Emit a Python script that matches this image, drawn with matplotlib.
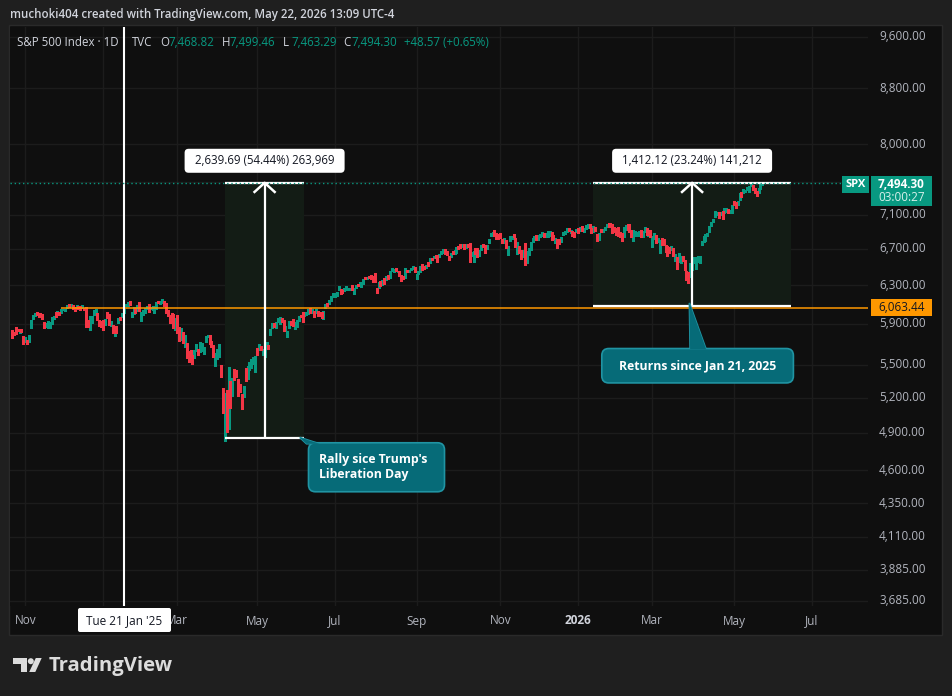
import matplotlib
matplotlib.use("Agg")
import matplotlib.pyplot as plt
from matplotlib.patches import Rectangle, FancyBboxPatch, Polygon, Circle
from matplotlib.lines import Line2D
from matplotlib.transforms import IdentityTransform
from matplotlib.ticker import FixedLocator, NullLocator, NullFormatter
import numpy as np
import pandas as pd

plt.rcParams["font.family"] = ["Open Sans", "DejaVu Sans"]

# ---------------- data ----------------
# exchange holidays (for the bar calendar)
holidays = ["2024-11-28", "2024-12-25", "2025-01-01", "2025-01-09", "2025-01-20",
            "2025-02-17", "2025-04-18", "2025-05-26", "2025-06-19", "2025-07-04",
            "2025-09-01", "2025-11-27", "2025-12-25", "2026-01-01", "2026-01-19",
            "2026-02-16", "2026-04-03", "2026-05-25", "2026-06-19", "2026-07-03"]
first_day = "2024-10-23"

# daily S&P 500 bars, Oct 23 2024 .. May 22 2026
opens = [
    5834, 5817, 5826, 5833, 5819, 5833, 5775,
    5723, 5725, 5722, 5855, 5947, 5977, 6009, 6003, 5986, 5989, 5912, 5869, 5859, 5917, 5934, 5944, 5992, 5992, 6015, 6004,
    6040, 6042, 6069, 6089, 6081, 6083, 6058, 6060, 6075, 6068, 6063, 6052, 6048, 5913, 5842, 5940, 5985, 6024, 6006, 5920, 5920,
    5903, 5892, 5983, 5994, 5911, 5890, 5782, 5862, 5905, 5960, 5969, 6015, 6081, 6077, 6121, 5969, 6026, 6058, 6050, 6096,
    5969, 5998, 6021, 6073, 6083, 6058, 6049, 6025, 6060, 6116, 6121, 6118, 6134, 6115, 6027, 5982, 5970, 5981, 5857,
    5969, 5812, 5781, 5786, 5726, 5706, 5604, 5624, 5594, 5563, 5635, 5654, 5633, 5646, 5630, 5718, 5775, 5772, 5701, 5679, 5528,
    5597, 5581, 5492, 5293, 4953, 5193, 4965, 5353, 5255, 5441, 5411, 5335, 5305, 5233, 5207, 5395, 5381, 5489, 5529, 5509, 5499,
    5626, 5645, 5655, 5605, 5614, 5650, 5679, 5807, 5854, 5896, 5870, 5930, 5902, 5945, 5910, 5841, 5781, 5854, 5920, 5939, 5903,
    5897, 5938, 5978, 5985, 5988, 6005, 6009, 6049, 6010, 5997, 6004, 6013, 5987, 6005, 5970, 6062, 6104, 6112, 6150, 6193,
    6187, 6194, 6248, 6259, 6239, 6240, 6271, 6255, 6251, 6296, 6249, 6264, 6305, 6304, 6306, 6326, 6369, 6371, 6398, 6410, 6377, 6427,
    6270, 6272, 6336, 6309, 6374, 6355, 6389, 6397, 6462, 6454, 6478, 6446, 6447, 6406, 6386, 6375, 6458, 6440, 6459, 6485, 6493,
    6401, 6444, 6456, 6529, 6498, 6500, 6556, 6546, 6591, 6600, 6624, 6611, 6627, 6652, 6658, 6693, 6669, 6608, 6619, 6662, 6657,
    6664, 6731, 6722, 6733, 6746, 6722, 6752, 6740, 6627, 6576, 6687, 6687, 6619, 6690, 6737, 6743, 6704, 6781, 6841, 6884, 6904, 6861, 6866,
    6873, 6785, 6765, 6799, 6711, 6785, 6822, 6864, 6827, 6668, 6722, 6655, 6623, 6716, 6565, 6631, 6709, 6778, 6823,
    6840, 6820, 6835, 6852, 6878, 6845, 6848, 6860, 6890, 6855, 6770, 6805, 6800, 6785, 6858, 6880, 6900, 6938, 6890, 6905, 6870, 6895,
    6920, 6905, 6955, 6910, 6935, 6960, 6985, 6935, 6900, 6950, 6865, 6805, 6925, 6900, 6918, 6955, 6996, 6990, 6984, 6955,
    6930, 6945, 6890, 6870, 6845, 6930, 6980, 6975, 6910, 6840, 6850, 6855, 6860, 6910, 6845, 6905, 6935, 6850, 6910,
    6735, 6820, 6855, 6780, 6670, 6815, 6810, 6735, 6725, 6720, 6690, 6705, 6575, 6605, 6560, 6550, 6620, 6570, 6450, 6440, 6395, 6470,
    6550, 6490, 6560, 6545, 6750, 6785, 6800, 6845, 6900, 6968, 7018, 7080, 7100, 7132, 7100, 7140, 7120, 7135, 7160, 7120, 7125,
    7262, 7250, 7222, 7285, 7375, 7362, 7382, 7405, 7385, 7455, 7465, 7420, 7390, 7370, 7420, 7468.82,
]
highs = [
    5834, 5817, 5862, 5842, 5848, 5851, 5775,
    5772, 5742, 5784, 5933, 5983, 6012, 6018, 6012, 6008, 5996, 5915, 5910, 5925, 5920, 5964, 5973, 6020, 6025, 6020, 6045,
    6053, 6052, 6089, 6099, 6099, 6088, 6066, 6092, 6080, 6079, 6085, 6057, 6071, 5935, 5982, 5978, 6040, 6049, 6006, 5941, 5929,
    5935, 5949, 6022, 6001, 5928, 5890, 5837, 5873, 5961, 5964, 6011, 6052, 6100, 6119, 6128, 6017, 6069, 6063, 6086, 6120,
    6022, 6042, 6062, 6084, 6101, 6074, 6076, 6064, 6116, 6127, 6129, 6147, 6134, 6115, 6043, 5992, 6009, 5994, 5959,
    5987, 5866, 5861, 5812, 5783, 5706, 5636, 5642, 5598, 5645, 5703, 5654, 5716, 5712, 5670, 5775, 5786, 5783, 5732, 5685, 5613,
    5650, 5695, 5501, 5293, 5247, 5267, 5481, 5353, 5381, 5460, 5450, 5367, 5328, 5233, 5309, 5469, 5489, 5528, 5553, 5571, 5581,
    5659, 5700, 5683, 5649, 5655, 5721, 5692, 5845, 5906, 5905, 5917, 5958, 5968, 5954, 5938, 5879, 5829, 5922, 5930, 5944, 5919,
    5938, 5979, 5990, 6017, 6017, 6022, 6044, 6060, 6046, 6026, 6051, 6024, 6019, 6018, 6028, 6101, 6109, 6146, 6187, 6215,
    6211, 6227, 6284, 6262, 6242, 6266, 6290, 6270, 6272, 6302, 6268, 6301, 6315, 6336, 6316, 6360, 6381, 6390, 6401, 6410, 6392, 6428,
    6271, 6330, 6344, 6350, 6379, 6396, 6410, 6447, 6481, 6474, 6481, 6455, 6456, 6408, 6394, 6481, 6467, 6466, 6483, 6508, 6494,
    6416, 6453, 6503, 6532, 6502, 6513, 6556, 6592, 6600, 6619, 6627, 6624, 6640, 6672, 6694, 6696, 6673, 6619, 6649, 6673, 6689,
    6718, 6731, 6751, 6749, 6749, 6754, 6755, 6764, 6664, 6670, 6714, 6706, 6682, 6744, 6752, 6743, 6747, 6808, 6877, 6899, 6920, 6880, 6869,
    6880, 6810, 6825, 6799, 6730, 6842, 6850, 6870, 6827, 6775, 6732, 6683, 6682, 6770, 6670, 6714, 6777, 6826, 6849,
    6860, 6858, 6870, 6894, 6885, 6878, 6905, 6906, 6895, 6860, 6823, 6815, 6810, 6838, 6894, 6908, 6946, 6940, 6920, 6910, 6898, 6926,
    6945, 6950, 6965, 6945, 6977, 6990, 6990, 6940, 6965, 6958, 6870, 6883, 6926, 6930, 6950, 6990, 6998, 6996, 6985, 6958,
    6940, 6950, 6895, 6883, 6955, 6977, 6988, 6988, 6918, 6918, 6910, 6898, 6905, 6918, 6910, 6953, 6940, 6898, 6918,
    6841, 6883, 6860, 6823, 6801, 6823, 6815, 6740, 6733, 6725, 6733, 6710, 6641, 6612, 6650, 6620, 6623, 6574, 6453, 6446, 6537, 6544,
    6612, 6605, 6620, 6620, 6793, 6841, 6870, 6887, 6965, 7016, 7048, 7149, 7137, 7137, 7137, 7149, 7178, 7178, 7165, 7150, 7218,
    7266, 7258, 7266, 7367, 7380, 7410, 7405, 7443, 7452, 7510, 7467, 7425, 7395, 7425, 7480, 7499.46,
]
lows = [
    5762, 5784, 5800, 5823, 5811, 5813, 5703,
    5723, 5696, 5722, 5855, 5947, 5977, 5985, 5969, 5965, 5946, 5854, 5866, 5854, 5861, 5892, 5942, 5964, 5986, 5984, 6004,
    6034, 6033, 6061, 6073, 6077, 6048, 6029, 6060, 6051, 6034, 6059, 6036, 5867, 5867, 5833, 5903, 5983, 6007, 5932, 5879, 5868,
    5834, 5889, 5960, 5891, 5874, 5809, 5774, 5803, 5905, 5937, 5969, 6007, 6076, 6075, 6088, 5962, 6001, 6012, 6028, 6031,
    5923, 5990, 6007, 6047, 6020, 6052, 6042, 6003, 6051, 6107, 6099, 6111, 6084, 6008, 5977, 5909, 5932, 5858, 5837,
    5810, 5732, 5742, 5711, 5667, 5566, 5529, 5547, 5505, 5563, 5629, 5597, 5622, 5633, 5603, 5718, 5764, 5695, 5671, 5572, 5489,
    5558, 5571, 5390, 5069, 4835, 4910, 4937, 5115, 5220, 5359, 5387, 5220, 5255, 5101, 5207, 5356, 5372, 5455, 5468, 5506, 5434,
    5597, 5645, 5637, 5594, 5578, 5650, 5651, 5786, 5854, 5868, 5856, 5917, 5896, 5920, 5830, 5826, 5767, 5854, 5886, 5875, 5848,
    5862, 5922, 5966, 5921, 5978, 5992, 6001, 6003, 6006, 5964, 6004, 5977, 5972, 5953, 5943, 6058, 6081, 6105, 6132, 6178,
    6173, 6187, 6247, 6201, 6211, 6236, 6251, 6251, 6242, 6242, 6201, 6264, 6286, 6303, 6282, 6316, 6361, 6362, 6378, 6362, 6331, 6330,
    6212, 6272, 6288, 6304, 6307, 6355, 6364, 6372, 6452, 6441, 6448, 6437, 6392, 6343, 6360, 6375, 6438, 6438, 6459, 6469, 6446,
    6361, 6416, 6446, 6460, 6474, 6487, 6508, 6538, 6578, 6594, 6600, 6551, 6611, 6635, 6657, 6642, 6627, 6569, 6611, 6640, 6640,
    6656, 6693, 6707, 6720, 6700, 6712, 6716, 6550, 6613, 6552, 6637, 6602, 6614, 6690, 6717, 6655, 6700, 6771, 6841, 6876, 6852, 6816, 6817,
    6823, 6766, 6763, 6710, 6631, 6785, 6812, 6830, 6721, 6646, 6648, 6580, 6604, 6521, 6538, 6627, 6685, 6778, 6823,
    6801, 6805, 6832, 6850, 6835, 6840, 6840, 6842, 6805, 6810, 6763, 6713, 6752, 6782, 6855, 6870, 6895, 6910, 6887, 6841, 6830, 6892,
    6880, 6900, 6900, 6895, 6930, 6945, 6945, 6883, 6895, 6910, 6793, 6800, 6895, 6898, 6915, 6955, 6957, 6950, 6880, 6898,
    6860, 6850, 6830, 6790, 6838, 6918, 6918, 6890, 6830, 6790, 6841, 6841, 6850, 6830, 6835, 6895, 6860, 6841, 6830,
    6720, 6812, 6766, 6772, 6650, 6744, 6744, 6668, 6620, 6650, 6687, 6620, 6566, 6475, 6555, 6544, 6566, 6464, 6355, 6320, 6390, 6464,
    6544, 6475, 6552, 6537, 6744, 6782, 6793, 6841, 6898, 6965, 7016, 7076, 7096, 7060, 7096, 7048, 7117, 7130, 7117, 7117, 7117,
    7218, 7178, 7218, 7279, 7318, 7360, 7378, 7404, 7380, 7452, 7404, 7360, 7330, 7367, 7412, 7463.29,
]
closes = [
    5797, 5809, 5808, 5823, 5832, 5813, 5705,
    5729, 5712, 5783, 5929, 5973, 5996, 6001, 5984, 5985, 5949, 5871, 5894, 5917, 5917, 5949, 5970, 5987, 6021, 5999, 6032,
    6047, 6050, 6087, 6075, 6090, 6053, 6034, 6085, 6051, 6051, 6074, 6050, 5872, 5867, 5931, 5974, 6040, 6037, 5971, 5907, 5882,
    5869, 5942, 5975, 5909, 5918, 5827, 5836, 5843, 5950, 5937, 5997, 6049, 6086, 6119, 6101, 6012, 6068, 6039, 6071, 6041,
    5994, 6038, 6061, 6084, 6026, 6066, 6068, 6052, 6115, 6115, 6129, 6144, 6117, 6013, 5983, 5955, 5956, 5861, 5955,
    5850, 5778, 5843, 5739, 5770, 5615, 5572, 5599, 5522, 5639, 5675, 5615, 5676, 5663, 5668, 5768, 5777, 5712, 5693, 5581, 5612,
    5633, 5671, 5397, 5074, 5062, 4982, 5457, 5268, 5363, 5406, 5397, 5276, 5283, 5158, 5288, 5376, 5485, 5525, 5529, 5561, 5569,
    5604, 5687, 5650, 5607, 5631, 5664, 5660, 5844, 5886, 5892, 5917, 5958, 5964, 5940, 5845, 5842, 5803, 5922, 5889, 5912, 5912,
    5936, 5970, 5971, 5939, 6000, 6006, 6038, 6022, 6045, 5977, 6033, 5983, 5981, 5967, 6025, 6092, 6092, 6141, 6173, 6205,
    6198, 6227, 6279, 6230, 6226, 6263, 6280, 6259, 6268, 6244, 6264, 6297, 6297, 6306, 6309, 6359, 6363, 6389, 6390, 6371, 6362, 6339,
    6238, 6330, 6299, 6345, 6340, 6389, 6374, 6446, 6466, 6469, 6450, 6449, 6412, 6396, 6370, 6467, 6439, 6466, 6481, 6502, 6460,
    6416, 6448, 6502, 6482, 6495, 6512, 6532, 6588, 6584, 6615, 6607, 6600, 6631, 6664, 6693, 6656, 6638, 6605, 6644, 6661, 6688,
    6711, 6715, 6716, 6740, 6714, 6753, 6735, 6553, 6654, 6644, 6671, 6630, 6664, 6736, 6735, 6699, 6738, 6792, 6875, 6891, 6890, 6822, 6840,
    6852, 6771, 6796, 6720, 6728, 6832, 6846, 6850, 6737, 6734, 6672, 6617, 6642, 6538, 6603, 6705, 6766, 6813, 6849,
    6812, 6829, 6849, 6880, 6850, 6866, 6890, 6895, 6820, 6815, 6810, 6730, 6760, 6830, 6885, 6900, 6935, 6918, 6912, 6850, 6840, 6920,
    6900, 6940, 6915, 6935, 6965, 6980, 6955, 6890, 6955, 6920, 6800, 6870, 6900, 6925, 6945, 6985, 6965, 6955, 6900, 6910,
    6875, 6860, 6840, 6800, 6945, 6965, 6930, 6905, 6840, 6895, 6895, 6885, 6895, 6845, 6900, 6945, 6870, 6890, 6840,
    6830, 6870, 6780, 6815, 6790, 6755, 6750, 6675, 6630, 6660, 6725, 6630, 6630, 6490, 6640, 6610, 6575, 6475, 6365, 6330, 6520, 6535,
    6600, 6590, 6610, 6615, 6785, 6835, 6860, 6880, 6958, 7010, 7042, 7140, 7130, 7070, 7128, 7060, 7170, 7165, 7125, 7145, 7210,
    7225, 7190, 7258, 7360, 7325, 7405, 7400, 7438, 7445, 7500, 7410, 7368, 7338, 7418, 7445.73, 7494.30,
]

# price grid levels; the 7,500 label sits under the live price tag
price_ticks = [3685, 3885, 4110, 4350, 4600, 4900, 5200, 5500, 5900,
               6300, 6700, 7100, 7500, 8000, 8800, 9600]
hidden_price_labels = [7500]
month_starts = ["2024-11", "2025-01", "2025-03", "2025-05", "2025-07", "2025-09",
                "2025-11", "2026-01", "2026-03", "2026-05", "2026-07"]
# the Jan 2025 label is covered by the crosshair date tag
month_labels = ["Nov", "", "Mar", "May", "Jul", "Sep", "Nov", "2026", "Mar", "May", "Jul"]

legend_ohlc = [("O", "7,468.82"), ("H", "7,499.46"), ("L", "7,463.29"), ("C", "7,494.30")]
legend_change = "+48.57 (+0.65%)"
last_price = 7494.30

level_price = 6063.44
level_start = "2024-11-29"
marker_date = "2025-01-21"

# price-range measurements: start, end, bottom, top, label
rally = ("2025-04-07", "2025-06-06", 4854.61, 7494.30, "2,639.69 (54.44%) 263,969")
since = ("2026-01-14", "2026-06-15", 6082.18, 7494.30, "1,412.12 (23.24%) 141,212")

# ---------------- style ----------------
W, H = 952, 696
UP, DOWN = "#089981", "#f23645"
BG, PANE, GRID = "#1f1f1f", "#0f0f0f", "#1c1c1c"
AXTXT, LIGHT = "#b2b5be", "#d1d4dc"
CALLOUT, CALLOUT_EDGE = "#066b78", "#2094a3"

cal = pd.bdate_range(first_day, "2026-08-31", freq="C", holidays=holidays)


def bar(d):
    return int(cal.searchsorted(pd.Timestamp(d)))


n = min(len(opens), len(highs), len(lows), len(closes))
o = np.array(opens[:n], float)
h = np.array(highs[:n], float)
l = np.array(lows[:n], float)
c = np.array(closes[:n], float)
xs = np.arange(n)

fig = plt.figure(figsize=(W / 100, H / 100), dpi=100, facecolor=BG)
ID = IdentityTransform()


def P(x, y):
    # top-left pixel -> display
    return x, H - y


fig.add_artist(Rectangle(P(9, 635), 933, 610, transform=ID, fc=PANE, ec="#2a2a2a", lw=1, zorder=-1))

ax = fig.add_axes([10 / W, (H - 606) / H, 858 / W, 579 / H])
ax.set_facecolor(PANE)
for s in ax.spines.values():
    s.set_visible(False)
ax.set_yscale("log")
i_mark = bar(marker_date)
ax.set_xlim(i_mark - 114 / 1.9, i_mark + 744 / 1.9)
ax.set_ylim(3652.5, 9764)

ax.yaxis.set_major_locator(FixedLocator(price_ticks))
ax.yaxis.set_minor_locator(NullLocator())
ax.yaxis.set_major_formatter(NullFormatter())
ax.yaxis.set_minor_formatter(NullFormatter())
tick_bars = [bar(m + "-01") for m in month_starts]
ax.xaxis.set_major_locator(FixedLocator(tick_bars))
ax.xaxis.set_major_formatter(NullFormatter())
ax.tick_params(length=0)
ax.grid(True, color=GRID, lw=1)
ax.set_axisbelow(True)

# measurement shading (below candles)
for m in (rally, since):
    i0, i1 = bar(m[0]), bar(m[1])
    ax.add_patch(Rectangle((i0, m[2]), i1 - i0, m[3] - m[2], fc="#131c15", ec="none", zorder=1))

# candles (1 px wide at this zoom)
up = c >= o
ax.vlines(xs[up], l[up], h[up], colors=UP, lw=0.76, antialiased=False, zorder=3)
ax.vlines(xs[~up], l[~up], h[~up], colors=DOWN, lw=0.76, antialiased=False, zorder=3)

# level line and marker line
ax.hlines(level_price, bar(level_start), ax.get_xlim()[1], color="#ff9800", lw=1.1, zorder=4)
ax.axvline(i_mark, color="white", lw=1.5, zorder=6)

# measurement brackets
for m in (rally, since):
    i0, i1 = bar(m[0]), bar(m[1])
    im = (i0 + i1) / 2
    ax.hlines([m[2], m[3]], i0, i1, color="white", lw=1.6, zorder=5)
    ax.vlines(im, m[2], m[3], color="white", lw=1.6, zorder=5)

ax.axhline(last_price, color=UP, lw=1, ls=(0, (1, 2)), zorder=7)

fig.canvas.draw()


def D(i, p):
    return ax.transData.transform((i, p))


for m in (rally, since):
    i0, i1 = bar(m[0]), bar(m[1])
    xm, yt = D((i0 + i1) / 2, m[3])
    fig.add_artist(Line2D([xm - 11, xm, xm + 11], [yt - 10, yt, yt - 10], transform=ID,
                          color="white", lw=1.8, zorder=8, solid_capstyle="butt"))
    fig.add_artist(FancyBboxPatch((xm - 80, yt + 10), 160, 24, boxstyle="round,pad=0,rounding_size=4",
                                  transform=ID, fc="white", ec="none", zorder=8))
    fig.text(xm, yt + 22, m[4], transform=ID, ha="center", va="center", color="#131722",
             fontsize=8.3, zorder=9)


def callout(ax_, ay, box, tail, text, tx, ty, ha):
    fc, ec = CALLOUT, CALLOUT_EDGE
    tail_pts = [(ax_ + dx, ay + dy) for dx, dy in tail]
    fig.add_artist(Polygon(tail_pts, closed=True, transform=ID, fc=fc, ec=ec, lw=1.2, zorder=10))
    x0, x1, y0, y1 = box
    fig.add_artist(FancyBboxPatch((ax_ + x0, ay + y1), x1 - x0, y0 - y1,
                                  boxstyle="round,pad=0,rounding_size=7", transform=ID,
                                  fc=fc, ec=ec, lw=1.2, zorder=10))
    fig.add_artist(Polygon(tail_pts, closed=True, transform=ID, fc=fc, ec="none", zorder=10.5))
    fig.text(ax_ + tx, ay + ty, text, transform=ID, ha=ha, va="center", color="white",
             fontsize=8.8, fontweight="bold", linespacing=1.25, zorder=11)


rx, ry = D(bar(rally[1]), rally[2])
callout(rx, ry, (4, 140, -4.3, -53.3), [(-4.7, 1), (2, -5.3), (15, -5.3)],
        "Rally sice Trump's\nLiberation Day", 15, -28.5, "left")
sx, sy = D((bar(since[0]) + bar(since[1])) / 2, since[2])
callout(sx, sy, (-90.3, 101.3, -42.8, -77.2), [(-2.7, 2.8), (-2, -43.5), (14, -43.5)],
        "Returns since Jan 21, 2025", 5.5, -60, "center")

# ---------------- price scale ----------------
for t in price_ticks:
    if t in hidden_price_labels:
        continue
    _, y = D(0, t)
    fig.text(879, y, f"{t:,.2f}", transform=ID, ha="left", va="center", color=AXTXT, fontsize=8.5)

_, yl = D(0, level_price)
fig.add_artist(Rectangle((871, yl - 8.5), 61, 17, transform=ID, fc="#ff9800", ec="none", zorder=8))
fig.text(901.5, yl, f"{level_price:,.2f}", transform=ID, ha="center", va="center",
         color="#131722", fontsize=8.5, zorder=9)

_, yp = D(0, last_price)
fig.add_artist(Rectangle((871, yp - 23.5), 61, 30, transform=ID, fc=UP, ec="none", zorder=8))
fig.text(901.5, yp - 1.5, f"{last_price:,.2f}", transform=ID, ha="center", va="center",
         color="white", fontsize=8.5, fontweight="bold", zorder=9)
fig.text(901.5, yp - 14.5, "03:00:27", transform=ID, ha="center", va="center",
         color="#d7f0eb", fontsize=8.5, zorder=9)
fig.add_artist(Rectangle((842, yp - 10.5), 27, 17, transform=ID, fc=UP, ec="none", zorder=8))
fig.text(855.5, yp - 2, "SPX", transform=ID, ha="center", va="center", color="white",
         fontsize=8, fontweight="bold", zorder=9)

# ---------------- time scale ----------------
for tb, lab in zip(tick_bars, month_labels):
    if not lab:
        continue
    x, _ = D(tb, 5000)
    bold = lab.isdigit()
    fig.text(x, H - 621, lab, transform=ID, ha="center", va="center",
             color=LIGHT if bold else AXTXT, fontsize=8.5, fontweight="bold" if bold else "normal")

xmk, _ = D(i_mark, 5000)
fig.add_artist(FancyBboxPatch((xmk - 46, H - 632), 93, 24, boxstyle="round,pad=0,rounding_size=2",
                              transform=ID, fc="white", ec="none", zorder=8))
fig.text(xmk + 0.5, H - 620.5, "Tue 21 Jan '25", transform=ID, ha="center", va="center",
         color="#131722", fontsize=8.5, zorder=9)

# ---------------- header & legend ----------------
fig.text(*P(10, 14.5), "muchoki404 created with TradingView.com, May 22, 2026 13:09 UTC-4",
         transform=ID, ha="left", va="center", color=LIGHT, fontsize=8.3, fontweight="semibold")
ly = 42.3
fig.text(*P(17, ly), "S&P 500 Index \u00b7 1D", transform=ID, ha="left", va="center", color=LIGHT, fontsize=8.3)
fig.text(*P(132, ly), "TVC", transform=ID, ha="left", va="center", color=LIGHT, fontsize=8.3)
for (k, v), x0 in zip(legend_ohlc, [160, 221.5, 283, 343]):
    fig.text(*P(x0, ly), k, transform=ID, ha="left", va="center", color=LIGHT, fontsize=8.3)
    fig.text(*P(x0 + 8, ly), v, transform=ID, ha="left", va="center", color=UP, fontsize=8.3)
fig.text(*P(404.5, ly), legend_change, transform=ID, ha="left", va="center", color=UP, fontsize=8.3)

# ---------------- TradingView logo ----------------
logo = "#dcdcdc"
fig.add_artist(Polygon([P(12.7, 658), P(27.3, 658), P(27.3, 672), P(20.7, 672), P(20.7, 664), P(12.7, 664)],
                       transform=ID, fc=logo, ec="none"))
fig.add_artist(Circle(P(30.8, 661.2), 3.0, transform=ID, fc=logo, ec="none"))
fig.add_artist(Polygon([P(35.8, 658), P(41.7, 658), P(35.3, 672), P(29.2, 672)], transform=ID, fc=logo, ec="none"))
fig.text(*P(48.5, 666), "TradingView", transform=ID, ha="left", va="center", color=logo,
         fontsize=14.6, fontweight="bold")

fig.savefig("out.png", dpi=100, facecolor=BG)
